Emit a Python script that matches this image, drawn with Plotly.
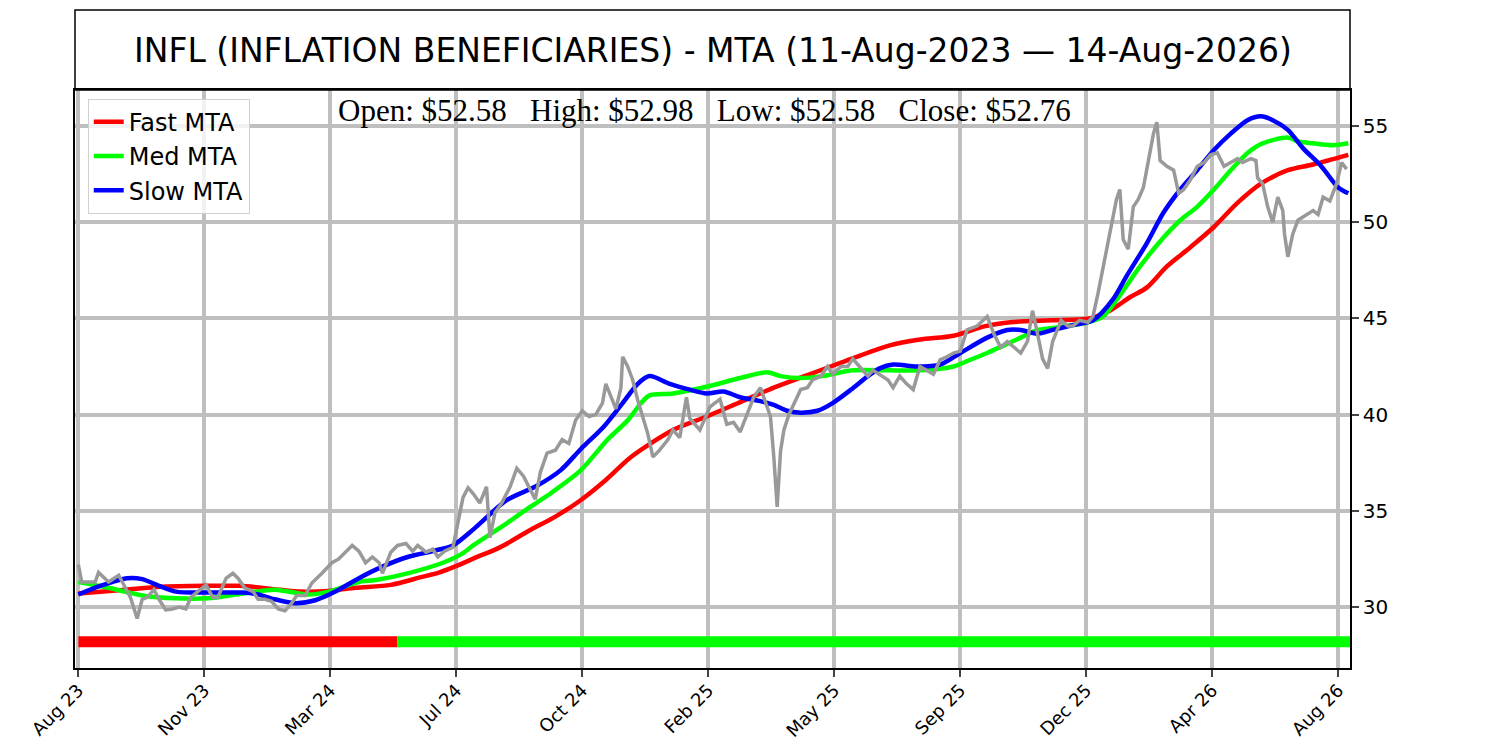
import plotly.graph_objects as go

# x axis is the session index, one tick label every 75 sessions
tick_bars = [0, 75, 150, 225, 300, 375, 450, 525, 600, 675, 750]
tick_labels = ["Aug 23", "Nov 23", "Mar 24", "Jul 24", "Oct 24", "Feb 25",
               "May 25", "Sep 25", "Dec 25", "Apr 26", "Aug 26"]

# price (roughly every few sessions)
gray_bar = [0, 1, 2, 10, 12, 18, 24, 28, 31, 35, 38, 41, 45, 48, 52, 56, 60, 64,
            67, 71, 76, 80, 83, 88, 92, 95, 99, 104, 107, 111, 115, 119, 123, 127,
            130, 135, 139, 145, 151, 155, 159, 163, 167, 171, 175, 179, 181, 186,
            190, 195, 199, 202, 207, 211, 214, 218, 223, 226, 229, 232, 235, 239,
            243, 245, 248, 252, 257, 261, 265, 269, 272, 275, 279, 284, 288, 292,
            296, 300, 304, 308, 312, 314, 317, 320, 323, 324, 327, 330, 333, 336,
            339, 342, 346, 351, 354, 358, 362, 364, 368, 370, 376, 382, 386, 390,
            394, 398, 402, 406, 409, 412, 414, 416, 418, 420, 423, 427, 430, 434,
            437, 442, 446, 449, 454, 458, 461, 465, 470, 473, 477, 482, 485, 489,
            493, 497, 501, 505, 509, 513, 517, 521, 525, 529, 535, 541, 545, 549,
            553, 557, 561, 565, 568, 571, 574, 577, 580, 585, 589, 592, 596, 601,
            604, 607, 610, 613, 616, 618, 620, 622, 625, 628, 631, 634, 637, 640,
            642, 644, 648, 652, 655, 658, 662, 666, 670, 674, 678, 682, 686, 690,
            693, 698, 701, 702, 705, 708, 711, 714, 717, 718, 720, 723, 726, 730,
            735, 738, 741, 745, 749, 752, 755]
gray_close = [32.2, 31.6, 31.3, 31.3, 31.8, 31.3, 31.65, 31.0, 30.5, 29.4, 30.4,
              30.5, 30.9, 30.4, 29.85, 29.9, 30.0, 29.9, 30.5, 30.8, 31.15, 30.5,
              30.5, 31.5, 31.75, 31.5, 31.0, 30.8, 30.4, 30.4, 30.3, 29.9, 29.8,
              30.2, 30.6, 30.6, 31.25, 31.75, 32.3, 32.5, 32.85, 33.2, 32.9, 32.3,
              32.6, 32.3, 31.75, 32.85, 33.2, 33.3, 32.9, 33.2, 32.85, 33.0, 32.6,
              32.9, 33.1, 34.5, 35.7, 36.2, 35.9, 35.4, 36.25, 33.6, 34.9, 35.4,
              36.25, 37.2, 36.8, 36.1, 35.6, 37.0, 38.0, 38.15, 38.7, 38.5, 39.7,
              40.2, 39.9, 40.0, 40.6, 41.6, 40.9, 40.3, 41.4, 43.0, 42.5, 41.8,
              40.75, 39.9, 39.0, 37.8, 38.15, 38.7, 39.2, 38.8, 40.9, 39.8, 39.4,
              39.2, 40.4, 40.8, 39.5, 39.6, 39.1, 40.0, 40.9, 41.4, 40.7, 39.9,
              37.8, 35.2, 38.1, 39.2, 40.0, 40.7, 41.3, 41.4, 41.8, 42.0, 42.5,
              42.1, 42.5, 42.5, 42.9, 42.5, 42.0, 42.3, 42.1, 41.8, 41.4, 42.0,
              41.6, 41.3, 42.5, 42.3, 42.1, 42.85, 43.0, 43.2, 43.3, 44.4, 44.6,
              45.1, 44.2, 43.5, 43.8, 43.5, 43.2, 43.8, 45.4, 44.2, 42.9, 42.4,
              43.8, 44.9, 44.6, 44.6, 44.9, 44.8, 45.1, 46.3, 47.7, 49.1, 50.3,
              51.2, 51.7, 49.1, 48.6, 50.8, 51.2, 51.8, 53.2, 54.6, 55.2, 53.2,
              52.9, 52.7, 51.5, 51.7, 52.2, 52.9, 53.1, 53.5, 53.6, 52.9, 53.1,
              53.3, 53.1, 53.3, 53.2, 52.3, 52.0, 50.8, 50.0, 51.3, 50.6, 49.4,
              48.2, 49.4, 50.1, 50.3, 50.6, 50.4, 51.3, 51.1, 52.0, 53.1, 52.76]

fast_bar = [0, 28, 49, 75, 96, 120, 132, 150, 165, 186, 204, 215, 227, 236, 251,
            269, 284, 299, 314, 329, 354, 374, 394, 414, 434, 454, 483, 501, 521,
            540, 555, 579, 602, 614, 626, 636, 648, 662, 676, 690, 704, 720, 735, 756]
fast_mta = [30.7, 30.9, 31.05, 31.1, 31.1, 30.9, 30.8, 30.85, 31.0, 31.15, 31.55,
            31.8, 32.2, 32.55, 33.1, 34.0, 34.7, 35.55, 36.6, 37.8, 39.2, 39.9,
            40.65, 41.4, 42.05, 42.7, 43.6, 43.9, 44.1, 44.6, 44.8, 44.9, 45.0,
            45.4, 46.1, 46.6, 47.7, 48.7, 49.75, 51.0, 52.0, 52.7, 53.0, 53.5]

med_bar = [0, 18, 38, 58, 77, 98, 117, 137, 149, 167, 177, 196, 217, 229, 235,
           255, 269, 281, 299, 315, 327, 335, 340, 354, 374, 394, 410, 418, 430,
           443, 461, 482, 501, 521, 531, 541, 551, 561, 571, 580, 601, 610, 620,
           632, 646, 656, 666, 676, 686, 696, 705, 720, 726, 735, 747, 756]
med_mta = [31.3, 31.0, 30.6, 30.45, 30.45, 30.7, 30.9, 30.65, 30.8, 31.3, 31.4,
           31.75, 32.3, 32.8, 33.2, 34.35, 35.2, 35.9, 37.1, 38.7, 39.7, 40.6,
           41.0, 41.1, 41.45, 41.9, 42.2, 42.0, 41.9, 42.0, 42.3, 42.3, 42.3,
           42.5, 42.85, 43.2, 43.6, 44.0, 44.4, 44.5, 44.8, 45.1, 46.2, 47.7,
           49.2, 50.1, 50.8, 51.7, 52.7, 53.6, 54.1, 54.4, 54.2, 54.1, 54.0, 54.1]

slow_bar = [0, 13, 29, 38, 48, 58, 77, 98, 107, 117, 129, 141, 153, 167, 181,
            196, 213, 223, 236, 255, 273, 287, 299, 313, 324, 333, 340, 352, 364,
            374, 384, 394, 406, 414, 422, 430, 440, 449, 460, 470, 477, 485, 499,
            513, 525, 541, 553, 561, 571, 580, 592, 604, 616, 624, 636, 646, 656,
            666, 676, 686, 696, 704, 711, 720, 729, 740, 750, 756]
slow_mta = [30.65, 31.1, 31.5, 31.45, 31.1, 30.8, 30.75, 30.75, 30.65, 30.4, 30.2,
            30.35, 30.8, 31.5, 32.1, 32.6, 32.95, 33.2, 34.1, 35.55, 36.3, 37.1,
            38.2, 39.4, 40.6, 41.6, 42.0, 41.6, 41.3, 41.1, 41.2, 40.9, 40.7, 40.5,
            40.2, 40.1, 40.2, 40.6, 41.3, 42.0, 42.4, 42.6, 42.5, 42.6, 43.2, 44.0,
            44.4, 44.4, 44.2, 44.4, 44.65, 44.9, 46.0, 47.2, 48.9, 50.5, 51.7,
            52.7, 53.75, 54.6, 55.3, 55.5, 55.3, 54.8, 53.85, 52.9, 51.8, 51.5]

# trend regime strip along the bottom: down until session 190, up afterwards
regime_bar = [0, 190, 757]
regime_state = ["down", "up"]

last_ohlc = {"Open": 52.58, "High": 52.98, "Low": 52.58, "Close": 52.76}
title = "INFL (INFLATION BENEFICIARIES) - MTA (11-Aug-2023 \u2014 14-Aug-2026)"

#%%
state_color = {"down": "#ff0000", "up": "#00ff00"}
band_level = 28.2
y_lo, y_hi = 26.83, 56.87

fig = go.Figure()

for i, st in enumerate(regime_state):
    fig.add_trace(go.Scatter(x=[regime_bar[i], regime_bar[i + 1]],
                             y=[band_level, band_level],
                             mode="lines", line=dict(color=state_color[st], width=11),
                             showlegend=False, hoverinfo="skip"))

for name, xs, ys, col in [("Fast MTA", fast_bar, fast_mta, "#ff0000"),
                          ("Med MTA", med_bar, med_mta, "#00ff00"),
                          ("Slow MTA", slow_bar, slow_mta, "#0000ff")]:
    fig.add_trace(go.Scatter(x=xs, y=ys, name=name, mode="lines",
                             line=dict(color=col, width=4.5, shape="spline",
                                       smoothing=0.8)))

fig.add_trace(go.Scatter(x=gray_bar, y=gray_close, mode="lines",
                         line=dict(color="#999999", width=3.5),
                         showlegend=False, name="Price"))

ohlc_text = "   ".join(f"{k}: ${v:.2f}" for k, v in last_ohlc.items())

# page body has an 8px margin, so the figure is a bit smaller than the window
fig.update_layout(
    width=1492, height=742,
    margin=dict(l=67, r=150, t=82, b=82),
    paper_bgcolor="white", plot_bgcolor="white",
    font=dict(family="DejaVu Sans", color="black"),
    showlegend=True,
    legend=dict(x=0.01, y=0.985, xanchor="left", yanchor="top",
                bgcolor="rgba(255,255,255,0.8)", bordercolor="#d0d0d0",
                borderwidth=1, itemwidth=30, tracegroupgap=0,
                font=dict(size=24, family="DejaVu Sans")),
    xaxis=dict(range=[-2, 757], tickvals=tick_bars, ticktext=tick_labels,
               tickangle=-45, tickfont=dict(size=18), ticks="outside",
               ticklen=7, tickwidth=1.5, ticklabelstandoff=-4,
               showline=True, linecolor="black",
               linewidth=1.5, mirror=True, showgrid=True, gridcolor="#bfbfbf",
               gridwidth=3.5, zeroline=False, automargin=False),
    yaxis=dict(range=[y_lo, y_hi], side="right", dtick=5, tickfont=dict(size=20),
               ticks="outside", ticklen=7, tickwidth=1.5, showline=True,
               linecolor="black", linewidth=1.5, mirror=True, showgrid=True,
               gridcolor="#bfbfbf", gridwidth=3.5, zeroline=False,
               automargin=False),
    shapes=[dict(type="rect", xref="paper", yref="paper", x0=0, x1=1,
                 y0=1, y1=1.1384, line=dict(color="black", width=1.5))],
    annotations=[
        dict(text=title, xref="paper", yref="paper", x=0.5, y=1.069,
             xanchor="center", yanchor="middle", showarrow=False,
             font=dict(size=33, family="DejaVu Sans")),
        dict(text=ohlc_text, xref="paper", yref="paper", x=0.494, y=0.998,
             xanchor="center", yanchor="top", showarrow=False,
             font=dict(size=31, family="Liberation Serif")),
    ],
)

fig.write_html("out.html")
